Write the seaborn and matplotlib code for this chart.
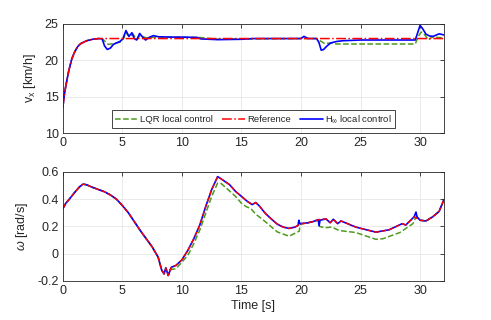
import matplotlib
matplotlib.use("Agg")
import matplotlib.pyplot as plt
import seaborn as sns

# ---- top panel: longitudinal speed v_x [km/h] ----
t_ref_v = [0, 0.1, 0.25, 0.5, 0.75, 1.0, 1.25, 1.5, 2.0, 2.5, 3.0, 32]
ref_v = [13.5, 15.0, 16.5, 18.6, 20.2, 21.2, 21.9, 22.3, 22.7, 22.9, 23.0, 23.0]

t_hinf_v = [0, 0.1, 0.25, 0.5, 0.75, 1.0, 1.25, 1.5, 2.0, 2.5, 3.0, 3.3, 3.5, 3.73,
            4.0, 4.25, 4.5, 4.8, 5.05, 5.3, 5.55, 5.8, 6.0, 6.2, 6.45, 6.7, 6.95,
            7.3, 7.6, 8.0, 9.0, 10.0, 11.3, 11.6, 13.0, 15.0, 16.0, 20.0, 20.25,
            20.6, 21.3, 21.5, 21.7, 21.9, 22.2, 22.5, 23.0, 23.5, 25.0, 29.6, 29.8,
            30.0, 30.2, 30.5, 30.8, 31.1, 31.6, 32]
hinf_v = [13.5, 15.0, 16.5, 18.6, 20.2, 21.2, 21.9, 22.3, 22.7, 22.9, 23.0, 22.95,
          22.0, 21.5, 21.7, 22.2, 22.4, 22.6, 23.0, 24.1, 23.3, 23.8, 23.0, 22.8,
          23.7, 23.2, 22.8, 23.2, 23.4, 23.25, 23.2, 23.2, 23.15, 22.95, 22.85,
          22.9, 23.0, 23.0, 23.3, 23.0, 23.0, 22.5, 21.4, 21.5, 22.0, 22.4, 22.6,
          22.7, 22.8, 22.8, 23.8, 24.8, 24.4, 23.6, 23.35, 23.3, 23.65, 23.5]

t_lqr_v = [0, 0.1, 0.25, 0.5, 0.75, 1.0, 1.25, 1.5, 2.0, 2.5, 3.0, 3.3, 3.8, 4.3,
           4.8, 5.1, 5.3, 5.6, 5.9, 6.2, 6.5, 7.0, 8.0, 11.5, 13.0, 15.0, 20.0,
           21.3, 21.6, 22.0, 22.5, 23.0, 29.6, 29.85, 30.1, 30.4, 30.7, 31.0, 31.5, 32]
lqr_v = [13.5, 15.0, 16.5, 18.6, 20.2, 21.2, 21.9, 22.3, 22.7, 22.9, 23.0, 23.0,
         22.2, 22.3, 22.5, 23.0, 23.8, 23.2, 23.6, 22.9, 23.4, 23.1, 23.2, 23.15,
         22.9, 22.95, 23.0, 23.0, 22.7, 22.3, 22.4, 22.25, 22.25, 23.3, 23.9,
         23.5, 22.8, 23.2, 23.15, 23.1]

# ---- bottom panel: yaw rate omega [rad/s] ----
t_ref_w = [0, 0.25, 0.5, 1.0, 1.4, 1.7, 2.0, 2.5, 3.0, 3.5, 4.0, 4.5, 5.0, 5.5,
           6.0, 6.5, 7.0, 7.5, 8.0, 8.3, 8.5, 8.65, 8.85, 9.1, 9.5, 10.0, 10.5,
           11.0, 11.5, 12.0, 12.5, 13.0, 13.3, 14.0, 14.5, 15.0, 15.5, 15.9, 16.2,
           16.5, 17.0, 17.5, 18.0, 18.5, 19.0, 19.5, 19.9, 20.5, 21.0, 21.5, 22.1,
           22.45, 22.72, 23.08, 23.36, 24.6, 25.5, 26.3, 27.4, 28.5, 28.8, 29.5,
           30.0, 30.5, 31.06, 31.6, 32]
ref_w = [0.33, 0.37, 0.395, 0.45, 0.49, 0.51, 0.505, 0.486, 0.47, 0.454, 0.43,
         0.4, 0.353, 0.3, 0.235, 0.17, 0.11, 0.05, -0.025, -0.12, -0.148, -0.105,
         -0.16, -0.1, -0.086, -0.045, 0.025, 0.11, 0.21, 0.346, 0.47, 0.565, 0.548,
         0.506, 0.457, 0.42, 0.383, 0.36, 0.375, 0.35, 0.296, 0.255, 0.217, 0.195,
         0.185, 0.195, 0.215, 0.225, 0.235, 0.25, 0.255, 0.227, 0.252, 0.22, 0.24,
         0.195, 0.175, 0.158, 0.175, 0.22, 0.21, 0.27, 0.245, 0.24, 0.27, 0.31, 0.395]

t_hinf_w = [0, 0.25, 0.5, 1.0, 1.4, 1.7, 2.0, 2.5, 3.0, 3.5, 4.0, 4.5, 5.0, 5.5,
            6.0, 6.5, 7.0, 7.5, 8.0, 8.3, 8.5, 8.65, 8.85, 9.1, 9.5, 10.0, 10.5,
            11.0, 11.5, 12.0, 12.5, 13.0, 13.3, 14.0, 14.5, 15.0, 15.5, 15.9, 16.2,
            16.5, 17.0, 17.5, 18.0, 18.5, 19.0, 19.5, 19.75, 19.82, 19.9, 20.5, 21.0,
            21.45, 21.52, 21.6, 22.1, 22.45, 22.72, 23.08, 23.36, 24.6, 25.5, 26.3,
            27.4, 28.5, 28.8, 29.5, 29.66, 29.75, 30.0, 30.5, 31.06, 31.6, 32]
hinf_w = [0.33, 0.37, 0.395, 0.45, 0.49, 0.51, 0.505, 0.486, 0.47, 0.454, 0.43,
          0.4, 0.353, 0.3, 0.235, 0.17, 0.11, 0.05, -0.025, -0.12, -0.148, -0.105,
          -0.16, -0.1, -0.086, -0.045, 0.025, 0.11, 0.21, 0.346, 0.47, 0.565, 0.548,
          0.506, 0.457, 0.42, 0.383, 0.36, 0.375, 0.35, 0.296, 0.255, 0.217, 0.195,
          0.185, 0.195, 0.207, 0.245, 0.22, 0.225, 0.235, 0.25, 0.205, 0.245, 0.255,
          0.227, 0.252, 0.22, 0.24, 0.195, 0.175, 0.158, 0.175, 0.22, 0.21, 0.27,
          0.305, 0.27, 0.245, 0.24, 0.27, 0.31, 0.395]

t_lqr_w = [0, 0.25, 0.5, 1.0, 1.4, 1.7, 2.0, 2.5, 3.0, 3.5, 4.0, 4.5, 5.0, 5.5,
           6.0, 6.5, 7.0, 7.5, 8.0, 8.3, 8.5, 8.65, 8.85, 9.0, 9.5, 10.0, 10.5,
           11.0, 11.5, 12.0, 12.5, 13.0, 13.3, 14.0, 14.5, 15.0, 15.4, 15.8, 16.2,
           17.0, 18.0, 19.0, 19.85, 19.95, 20.5, 21.0, 21.45, 21.55, 22.0, 22.6,
           23.2, 24.6, 26.3, 26.9, 28.3, 29.4, 29.66, 30.0, 30.5, 31.06, 31.6, 32]
lqr_w = [0.33, 0.37, 0.395, 0.45, 0.49, 0.51, 0.505, 0.486, 0.47, 0.454, 0.43,
         0.4, 0.353, 0.3, 0.235, 0.17, 0.11, 0.05, -0.025, -0.12, -0.148, -0.105,
         -0.16, -0.118, -0.11, -0.062, -0.012, 0.074, 0.173, 0.296, 0.42, 0.518,
         0.514, 0.46, 0.42, 0.37, 0.345, 0.33, 0.29, 0.235, 0.16, 0.128, 0.165,
         0.22, 0.225, 0.235, 0.245, 0.2, 0.19, 0.195, 0.17, 0.155, 0.105, 0.11,
         0.155, 0.22, 0.27, 0.245, 0.24, 0.27, 0.31, 0.395]

sns.set_style("white")
plt.rcParams["font.family"] = ["Liberation Sans", "DejaVu Sans"]
plt.rcParams["mathtext.fontset"] = "custom"
plt.rcParams["mathtext.rm"] = "Liberation Sans"
plt.rcParams["mathtext.it"] = "Liberation Sans:italic"

green = "#4d9a1c"
dark = "#262626"

fig = plt.figure(figsize=(4.91, 3.2), dpi=100)
ax1 = fig.add_axes([0.128, 0.584, 0.776, 0.341])
ax2 = fig.add_axes([0.128, 0.122, 0.776, 0.341])


def style_axes(ax):
    ax.grid(True, color="#e6e6e6", linewidth=0.6)
    ax.set_axisbelow(True)
    for s in ax.spines.values():
        s.set_color(dark)
        s.set_linewidth(0.6)
    ax.tick_params(direction="in", length=3, width=0.6, colors=dark,
                   labelsize=9, top=True, right=True, pad=3)
    ax.set_xlim(0, 32)
    ax.set_xticks([0, 5, 10, 15, 20, 25, 30])


sns.lineplot(x=t_lqr_v, y=lqr_v, ax=ax1, color=green, linestyle="--",
             linewidth=1.1, label="LQR local control", estimator=None, sort=False)
sns.lineplot(x=t_hinf_v, y=hinf_v, ax=ax1, color="#0000ff", linewidth=1.2,
             label=r"H$_\infty$ local control", estimator=None, sort=False)
sns.lineplot(x=t_ref_v, y=ref_v, ax=ax1, color="#ff0000", linestyle="-.",
             linewidth=1.1, label="Reference", estimator=None, sort=False)
style_axes(ax1)
ax1.set_ylim(10, 25)
ax1.set_yticks([10, 15, 20, 25])
ax1.set_ylabel(r"v$_\mathregular{x}$ [km/h]", fontsize=9, color=dark, labelpad=5)
h, l = ax1.get_legend_handles_labels()
order = [0, 2, 1]
ax1.legend([h[i] for i in order], [l[i] for i in order], loc="lower center",
           bbox_to_anchor=(0.5, 0.0), ncol=3, fontsize=6.8, frameon=True,
           fancybox=False, edgecolor=dark, framealpha=1, handlelength=2.4,
           handletextpad=0.2, columnspacing=1.0, borderpad=0.35)
ax1.get_legend().get_frame().set_linewidth(0.6)

sns.lineplot(x=t_lqr_w, y=lqr_w, ax=ax2, color=green, linestyle="--",
             linewidth=1.1, estimator=None, sort=False)
sns.lineplot(x=t_hinf_w, y=hinf_w, ax=ax2, color="#0000ff", linewidth=1.2,
             estimator=None, sort=False)
sns.lineplot(x=t_ref_w, y=ref_w, ax=ax2, color="#ff0000", linestyle="--",
             linewidth=1.0, estimator=None, sort=False)
style_axes(ax2)
ax2.set_ylim(-0.2, 0.6)
ax2.set_yticks([-0.2, 0, 0.2, 0.4, 0.6])
ax2.set_yticklabels(["-0.2", "0", "0.2", "0.4", "0.6"])
ax2.set_ylabel(r"$\omega$ [rad/s]", fontsize=9, color=dark, labelpad=5)
ax2.set_xlabel("Time [s]", fontsize=9, color=dark, labelpad=2)

fig.savefig("out.png", dpi=100)
